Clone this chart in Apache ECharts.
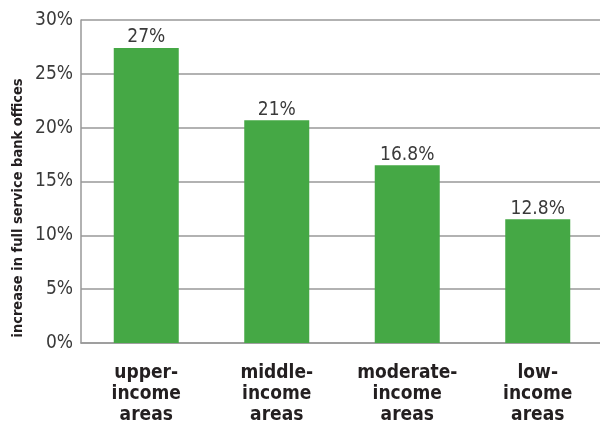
<!DOCTYPE html>
<html><head><meta charset="utf-8">
<script src="https://cdn.jsdelivr.net/npm/echarts@6/dist/echarts.min.js"></script>
<style>html,body{margin:0;padding:0;background:#fff}#c{width:600px;height:422px}</style>
</head><body><div id="c"></div>
<script>
const categories = ["upper-\nincome\nareas", "middle-\nincome\nareas", "moderate-\nincome\nareas", "low-\nincome\nareas"];
const values = [27.4, 20.7, 16.5, 11.5];
const valueLabels = ["27%", "21%", "16.8%", "12.8%"];
const yTicks = [0, 5, 10, 15, 20, 25, 30];
const yName = "increase in full service bank offices";

const FONT = "'Liberation Sans Narrow','DejaVu Sans Condensed','Roboto',sans-serif";
const chart = echarts.init(document.getElementById('c'));
chart.setOption({
  animation: false,
  grid: {left: 81, right: -3, top: 20, bottom: 79, outerBoundsMode: 'none', containLabel: false},
  graphic: [{
    type: 'text', x: 18, y: 208, rotation: Math.PI / 2,
    style: {text: yName, fontFamily: FONT, fontWeight: 'bold', fontSize: 14.5, fill: '#231f20',
      textAlign: 'center', textVerticalAlign: 'middle'}
  }],
  xAxis: {
    type: 'category', data: categories,
    axisTick: {show: false},
    axisLine: {lineStyle: {color: '#999', width: 1.5}},
    axisLabel: {interval: 0, fontFamily: FONT, fontWeight: 'bold', fontSize: 19, color: '#231f20', lineHeight: 21, margin: 20}
  },
  yAxis: {
    type: 'value', min: yTicks[0], max: yTicks[yTicks.length-1], interval: 5,
    axisLine: {show: true, lineStyle: {color: '#999', width: 1.5}},
    axisTick: {show: false},
    splitLine: {lineStyle: {color: '#999', width: 1.5}},
    axisLabel: {fontFamily: FONT, fontSize: 19, color: '#3a3a3a', margin: 8, formatter: v => v + '%'}
  },
  series: [{
    type: 'bar', data: values, barWidth: 65,
    itemStyle: {color: '#45a845'},
    label: {show: true, position: 'top', distance: 1, fontFamily: FONT, fontSize: 19, color: '#3a3a3a',
      formatter: p => valueLabels[p.dataIndex]}
  }]
});
</script></body></html>
